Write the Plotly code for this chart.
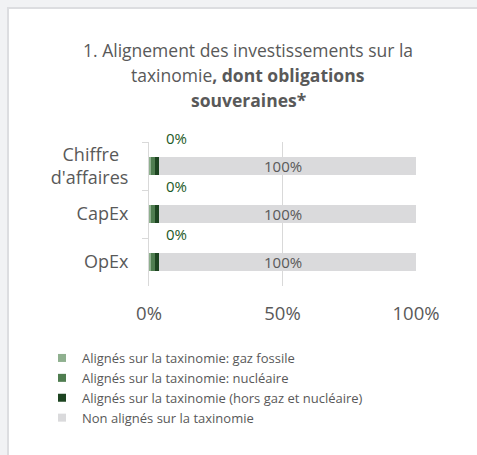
import plotly.graph_objects as go

# données
categories = ["Chiffre\u00a0\u00a0<br>d'affaires", "CapEx", "OpEx"]
gaz_fossile = [0.7, 0.7, 0.7]
nucleaire = [1.5, 1.5, 1.5]
hors_gaz_nucleaire = [1.5, 1.5, 1.5]
non_alignes = [96.3, 96.3, 96.3]
labels_alignes = ["0%", "0%", "0%"]
labels_non_alignes = ["100%", "100%", "100%"]
x_ticks = [0, 50, 100]
x_tick_labels = ["0%", "50%", "100%"]
title_lines = [
    "1. Alignement des investissements sur la",
    "taxinomie<b>, dont obligations</b>",
    "<b>souveraines*</b>",
]

series = [
    ("Alignés sur la taxinomie: gaz fossile", gaz_fossile, "#8fb08f"),
    ("Alignés sur la taxinomie: nucléaire", nucleaire, "#4f7d50"),
    ("Alignés sur la taxinomie (hors gaz et nucléaire)", hors_gaz_nucleaire, "#1d4421"),
    ("Non alignés sur la taxinomie", non_alignes, "#dadadc"),
]

FONT = "Open Sans, Arial, sans-serif"
GREY_TXT = "#595959"

fig = go.Figure()
for name, vals, color in series:
    fig.add_trace(go.Bar(
        y=categories, x=vals, orientation="h", name=name,
        marker=dict(color=color, line=dict(width=0)),
        showlegend=False, hoverinfo="skip",
    ))
    # entrées de légende avec petits carrés
    fig.add_trace(go.Scatter(
        x=[None], y=[None], mode="markers", name=name,
        marker=dict(symbol="square", size=8, color=color),
        showlegend=True,
    ))

# étiquettes de données
aligned_total = [a + b + c for a, b, c in zip(gaz_fossile, nucleaire, hors_gaz_nucleaire)]
for cat, xv, nv, lab, lab2 in zip(categories, aligned_total, non_alignes, labels_alignes, labels_non_alignes):
    fig.add_annotation(x=xv, y=cat, text=lab, showarrow=False, xanchor="left",
                       xshift=5, yshift=28, font=dict(size=15, color="#1d5a28", family=FONT))
    fig.add_annotation(x=(xv + nv) / 2, y=cat, text=lab2, showarrow=False, xanchor="center",
                       font=dict(size=15, color=GREY_TXT, family=FONT))

# titre, une ligne par annotation
for k, line in enumerate(title_lines):
    fig.add_annotation(
        xref="paper", yref="paper", x=(248 - 149) / 267, y=(286 - 50 - 25 * k) / 144,
        xanchor="center", yanchor="middle", text=line, showarrow=False,
        font=dict(size=17.5, color=GREY_TXT, family=FONT),
    )

# carte blanche sur fond gris
fig.add_shape(type="rect", xref="paper", yref="paper", layer="below",
              x0=(8 - 149) / 267, x1=1.5, y0=-1.5, y1=(286 - 8) / 144,
              fillcolor="white", line=dict(color="#dcdde0", width=2))

fig.update_layout(
    width=477, height=455,
    margin=dict(l=149, r=61, t=142, b=169, autoexpand=False),
    paper_bgcolor="#f1f2f4", plot_bgcolor="rgba(0,0,0,0)",
    barmode="stack", bargap=0.62,
    font=dict(family=FONT, color=GREY_TXT),
    legend=dict(xref="container", yref="container", x=42 / 477, y=1 - 343 / 455,
                xanchor="left", yanchor="top", traceorder="normal",
                font=dict(size=13, color=GREY_TXT, family=FONT),
                tracegroupgap=0, itemwidth=30, bgcolor="rgba(0,0,0,0)"),
    showlegend=True,
)
fig.update_xaxes(range=[0, 100], tickvals=x_ticks, ticktext=x_tick_labels,
                 showgrid=True, gridcolor="#d9d9d9", gridwidth=1, zeroline=False,
                 tickfont=dict(size=18.5, color=GREY_TXT), ticks="", ticklabelstandoff=14)
fig.update_yaxes(range=[len(categories) - 0.5, -0.5], showgrid=False, showline=True,
                 linecolor="#d9d9d9", ticks="outside", tickson="boundaries", ticklen=6,
                 tickcolor="#d9d9d9", tickfont=dict(size=18, color=GREY_TXT), ticklabelstandoff=16)

fig.write_html("out.html", config={"displayModeBar": False},
               post_script="document.body.style.margin='0';")
